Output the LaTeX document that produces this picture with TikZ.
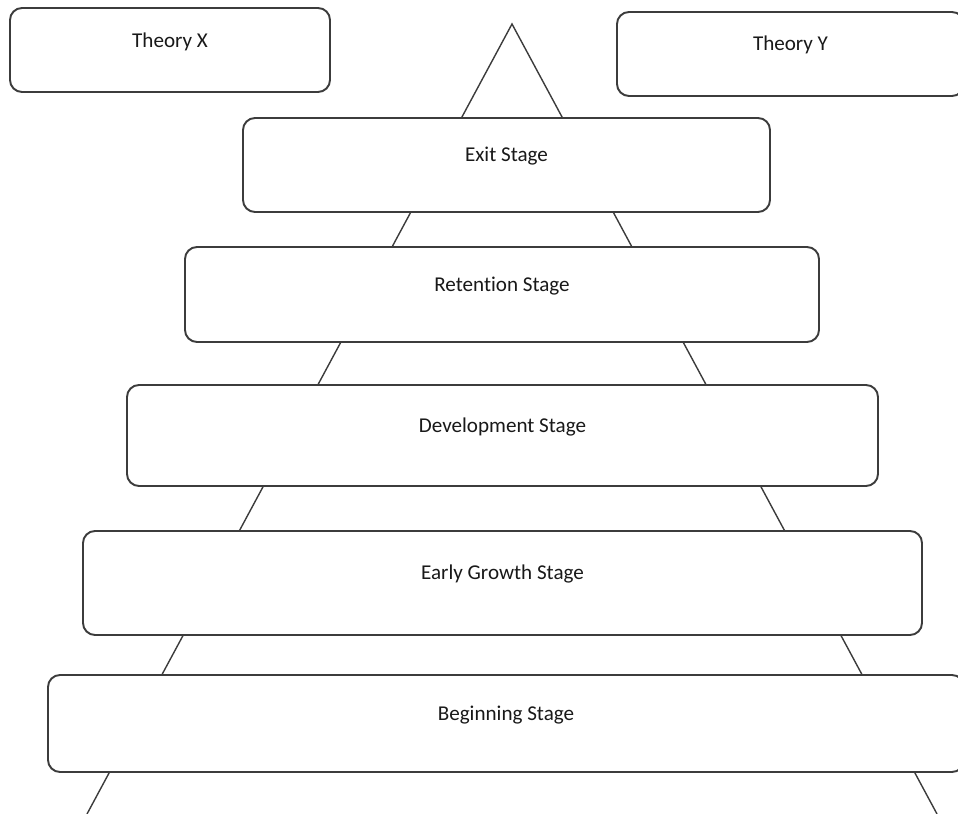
\documentclass[tikz,border=0pt]{standalone}
\usepackage{fontspec}
\setmainfont{Carlito}[Ligatures=CommonOff]
\usepackage{tikz}
\usetikzlibrary{positioning}
\usepackage{xcolor}
\definecolor{boxline}{HTML}{3C3C3C}
\tikzset{%
	stage box/.style={
		draw=boxline,
		line width=1.1pt,
		fill=white,
		rounded corners=0.24cm,
		font=\fontsize{12}{14}\selectfont,
		text=black!90,
		text height=0.3cm,
		text depth=0.43cm
	},
	pyramid line/.style={
		draw=boxline,
		line width=0.8pt
	},
}
\begin{document}
\begin{tikzpicture}
			\clip (0,0) rectangle (19.16,16.28);
			
			% Pyramid
			\coordinate (apex) at (10.24,15.80);
			\coordinate (footL) at (1.74,0);
			\coordinate (footR) at (18.74,0);
			\draw[pyramid line] (footL) -- (apex) -- (footR);
			
			% Theories
			\node[stage box, minimum width=6.40cm, minimum height=1.68cm, text depth=0.38cm] (theoryx) at (3.40,15.28) {Theory X};
			\node[stage box, minimum width=6.94cm, minimum height=1.68cm] (theoryy) at (15.81,15.20) {Theory Y};
			
			% Stages
			\node[stage box, minimum width=10.54cm, minimum height=1.88cm] (exit) at (10.13,12.98) {Exit Stage};
			\node[stage box, minimum width=12.68cm, minimum height=1.90cm] (retention) at (10.04,10.39) {Retention Stage};
			\node[stage box, minimum width=15.02cm, minimum height=2.02cm] (development) at (10.05,7.57) {Development Stage};
			\node[stage box, minimum width=16.78cm, minimum height=2.08cm] (growth) at (10.05,4.62) {Early Growth Stage};
			\node[stage box, minimum width=18.32cm, minimum height=1.94cm] (beginning) at (10.12,1.81) {Beginning Stage};
			
\end{tikzpicture}
\end{document}
